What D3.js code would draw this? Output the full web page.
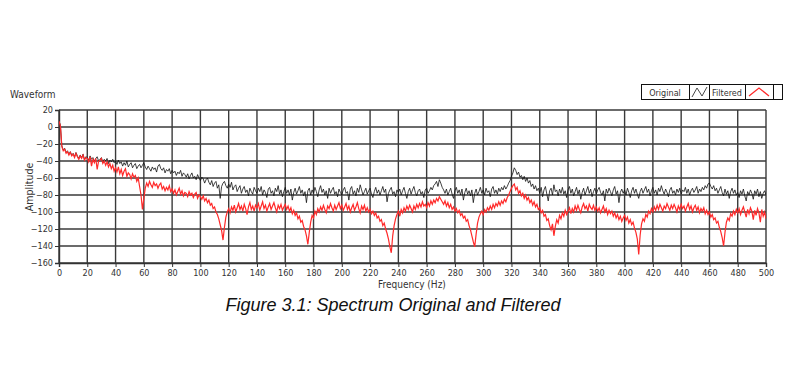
<!DOCTYPE html>
<html>
<head>
<meta charset="utf-8">
<script src="https://cdn.jsdelivr.net/npm/d3@7.9.0/dist/d3.min.js"></script>
<style>
  body { margin: 0; background: #fff; }
  svg text { font-family: "Liberation Sans Narrow", "DejaVu Sans Condensed", "Liberation Sans", sans-serif; fill: #333; }
  .caption { font-family: "Liberation Sans", Arial, sans-serif; font-style: italic; fill: #111; }
</style>
</head>
<body>
<svg id="chart" width="800" height="390"></svg>
<script>
// spectrum bins, 1 Hz apart, 0..500 Hz
const freqStep = 1;

const original = [
  7, 2, -22, -27, -25, -30, -28, -32, -29, -33, -31, -35, -30, -34, -37, -33, -36, -32, -38, -35,
  -36, -39, -34, -38, -36, -41, -37, -35, -40, -38, -36, -42, -38, -40, -37, -43, -39, -41, -38, -42,
  -40, -44, -39, -43, -41, -46, -42, -45, -40, -47, -44, -42, -48, -45, -43, -49, -46, -44, -48, -45,
  -42, -47, -50, -46, -49, -52, -47, -50, -48, -53, -46, -44, -49, -51, -48, -54, -50, -52, -49, -55,
  -51, -54, -52, -57, -53, -55, -51, -58, -54, -56, -59, -55, -61, -57, -54, -60, -58, -62, -56, -60,
  -63, -59, -61, -66, -62, -60, -65, -68, -63, -70, -66, -64, -72, -68, -84, -70, -66, -64, -69, -72,
  -67, -71, -65, -74, -70, -68, -76, -72, -69, -78, -73, -70, -77, -74, -81, -72, -76, -79, -71, -75,
  -78, -72, -76, -70, -80, -74, -77, -83, -73, -71, -78, -75, -81, -72, -76, -69, -79, -74, -82, -76,
  -71, -78, -74, -80, -73, -86, -77, -72, -79, -75, -70, -78, -74, -81, -76, -89, -75, -72, -80, -74,
  -78, -71, -76, -82, -74, -69, -77, -73, -80, -75, -84, -72, -78, -74, -71, -79, -76, -82, -73, -77,
  -80, -74, -71, -78, -76, -86, -73, -70, -79, -75, -81, -72, -77, -68, -74, -80, -76, -72, -79, -75,
  -72, -79, -83, -76, -71, -78, -74, -80, -75, -70, -77, -73, -88, -78, -74, -71, -79, -76, -82, -74,
  -77, -73, -80, -75, -71, -78, -84, -76, -72, -79, -74, -70, -77, -81, -75, -73, -79, -76, -83, -74,
  -72, -78, -75, -71, -74, -69, -67, -64, -70, -62, -66, -71, -74, -78, -73, -80, -76, -72, -79, -84,
  -75, -71, -78, -74, -80, -73, -86, -77, -72, -79, -75, -81, -74, -89, -78, -73, -80, -76, -71, -78,
  -74, -80, -72, -77, -75, -82, -73, -70, -78, -74, -79, -72, -76, -71, -74, -69, -73, -70, -66, -63,
  -58, -54, -48, -51, -56, -53, -59, -57, -62, -58, -64, -60, -66, -63, -70, -67, -73, -69, -75, -72,
  -78, -71, -82, -74, -70, -79, -87, -75, -72, -80, -68, -76, -74, -81, -73, -78, -71, -79, -75, -83,
  -74, -70, -78, -73, -81, -76, -71, -79, -74, -85, -77, -72, -80, -75, -70, -78, -73, -82, -76, -72,
  -79, -74, -71, -77, -80, -75, -87, -73, -78, -72, -76, -81, -74, -70, -79, -75, -89, -77, -73, -78,
  -74, -80, -72, -77, -83, -75, -71, -78, -73, -79, -84, -76, -72, -78, -74, -70, -77, -73, -81, -75,
  -71, -78, -74, -80, -72, -76, -69, -75, -79, -73, -77, -82, -74, -71, -78, -75, -80, -73, -77, -72,
  -79, -74, -76, -71, -78, -73, -80, -75, -72, -77, -74, -70, -78, -73, -76, -71, -74, -69, -72, -67,
  -66, -70, -73, -69, -75, -72, -78, -74, -70, -77, -81, -73, -79, -75, -84, -76, -72, -78, -74, -80,
  -77, -83, -75, -79, -73, -81, -87, -76, -80, -74, -78, -85, -75, -79, -73, -82, -76, -84, -78, -75,
  -80
];

const filtered = [
  7, 1, -23, -28, -26, -31, -29, -33, -30, -34, -32, -36, -31, -35, -38, -34, -37, -33, -39, -36,
  -37, -41, -35, -46, -38, -42, -37, -50, -40, -39, -37, -43, -40, -45, -41, -47, -43, -49, -45, -52,
  -48, -53, -47, -55, -50, -57, -52, -49, -58, -54, -56, -61, -55, -59, -57, -64, -60, -70, -80, -97,
  -84, -72, -66, -70, -64, -68, -71, -65, -69, -67, -72, -68, -66, -73, -70, -75, -71, -74, -69, -76,
  -73, -78, -74, -80, -76, -72, -79, -75, -81, -77, -78, -82, -76, -80, -78, -83, -79, -77, -84, -80,
  -82, -85, -81, -87, -84, -89, -86, -92, -90, -96, -94, -100, -103, -108, -115, -122, -133, -118, -106, -100,
  -96, -101, -94, -98, -92, -100, -95, -90, -97, -93, -99, -91, -96, -103, -94, -89, -97, -93, -99, -92,
  -95, -90, -98, -93, -88, -96, -92, -99, -94, -90, -97, -93, -89, -95, -100, -92, -96, -91, -98, -94,
  -91, -97, -93, -99, -95, -102, -98, -104, -101, -108, -105, -112, -110, -117, -121, -128, -138, -124, -112, -104,
  -107, -99, -103, -96, -100, -94, -98, -92, -97, -101, -93, -96, -90, -95, -99, -92, -97, -93, -89, -96,
  -92, -98, -94, -90, -97, -93, -100, -95, -91, -98, -94, -89, -96, -101, -93, -97, -92, -99, -95, -100,
  -97, -102, -99, -104, -101, -107, -105, -111, -109, -116, -113, -120, -125, -132, -141, -148, -128, -116, -108, -103,
  -99, -105, -97, -101, -95, -99, -93, -97, -92, -96, -100, -93, -97, -91, -95, -90, -94, -88, -93, -91,
  -95, -89, -93, -87, -91, -86, -89, -84, -87, -82, -85, -88, -91, -87, -93, -89, -95, -91, -97, -94,
  -99, -96, -101, -98, -104, -102, -107, -105, -111, -109, -116, -121, -128, -135, -141, -126, -113, -106, -102, -99,
  -103, -97, -100, -95, -98, -93, -97, -91, -95, -90, -93, -88, -92, -87, -90, -85, -88, -83, -80, -76,
  -72, -69, -67, -74, -71, -78, -75, -81, -78, -84, -80, -86, -83, -89, -86, -92, -88, -94, -91, -97,
  -95, -101, -98, -105, -103, -110, -108, -116, -121, -114, -128, -117, -109, -113, -104, -108, -101, -105, -98, -103,
  -99, -95, -102, -96, -100, -93, -98, -92, -97, -101, -94, -90, -96, -93, -99, -91, -95, -97, -92, -98,
  -94, -99, -95, -101, -97, -93, -100, -96, -103, -98, -102, -99, -105, -101, -107, -103, -109, -105, -111, -107,
  -104, -110, -106, -113, -109, -115, -112, -119, -124, -132, -150, -127, -114, -108, -111, -103, -106, -99, -102, -96,
  -100, -94, -98, -92, -97, -91, -95, -99, -93, -96, -90, -94, -98, -92, -96, -91, -95, -100, -93, -97,
  -91, -96, -93, -99, -94, -90, -97, -93, -100, -95, -92, -98, -94, -101, -96, -99, -95, -102, -98, -103,
  -100, -106, -103, -109, -107, -113, -111, -118, -123, -130, -140, -124, -112, -107, -110, -102, -105, -99, -103, -97,
  -101, -96, -103, -98, -94, -100, -106, -97, -102, -95, -99, -109, -98, -104, -96, -101, -112, -97, -105, -100,
  -108
];

const xTicks = d3.range(0, 501, 20);
const yTicks = [20, 0, -20, -40, -60, -80, -100, -120, -140, -160];

const plotLeft = 59, plotRight = 766, plotTop = 110, plotBottom = 263;

const svg = d3.select('#chart');

const x = d3.scaleLinear().domain([0, 500]).range([plotLeft, plotRight]);
const y = d3.scaleLinear().domain([-160, 20]).range([plotBottom, plotTop]);

// grid
svg.append('g')
  .selectAll('line')
  .data(xTicks)
  .join('line')
  .attr('x1', d => x(d)).attr('x2', d => x(d))
  .attr('y1', plotTop).attr('y2', plotBottom)
  .attr('stroke', '#3a3a3a').attr('stroke-width', 1.4);

svg.append('g')
  .selectAll('line')
  .data(yTicks)
  .join('line')
  .attr('x1', plotLeft).attr('x2', plotRight)
  .attr('y1', d => y(d)).attr('y2', d => y(d))
  .attr('stroke', '#3a3a3a').attr('stroke-width', 1.4);

// axes
const xAxis = svg.append('g')
  .attr('transform', `translate(0,${plotBottom})`)
  .call(d3.axisBottom(x).tickValues(xTicks).tickSize(4).tickPadding(3));
const yAxis = svg.append('g')
  .attr('transform', `translate(${plotLeft},0)`)
  .call(d3.axisLeft(y).tickValues(yTicks).tickSize(4).tickPadding(2));

[xAxis, yAxis].forEach(g => {
  g.select('.domain').attr('stroke', '#333').attr('stroke-width', 1.4);
  g.selectAll('.tick line').attr('stroke', '#333');
  g.selectAll('.tick text')
    .attr('font-size', 9)
    .style('font-family', '"Liberation Sans Narrow", "DejaVu Sans Condensed", sans-serif')
    .attr('fill', '#333');
});

// traces
svg.append('clipPath').attr('id', 'plotclip')
  .append('rect')
  .attr('x', plotLeft).attr('y', plotTop - 2)
  .attr('width', plotRight - plotLeft).attr('height', plotBottom - plotTop + 2);

const line = d3.line()
  .x((d, i) => x(i * freqStep))
  .y(d => y(d));

const traces = svg.append('g').attr('clip-path', 'url(#plotclip)');
traces.append('path')
  .datum(original)
  .attr('d', line)
  .attr('fill', 'none')
  .attr('stroke', '#111')
  .attr('stroke-width', 0.8);
traces.append('path')
  .datum(filtered)
  .attr('d', line)
  .attr('fill', 'none')
  .attr('stroke', '#ff2a2a')
  .attr('stroke-width', 1.2);

// labels
svg.append('text').attr('x', 10).attr('y', 98)
  .attr('font-size', 10).text('Waveform');

svg.append('text')
  .attr('transform', 'translate(33,187) rotate(-90)')
  .attr('text-anchor', 'middle')
  .attr('font-size', 10.5).text('Amplitude');

svg.append('text').attr('x', 412).attr('y', 288)
  .attr('text-anchor', 'middle')
  .attr('font-size', 10).text('Frequency (Hz)');

// legend
const legend = svg.append('g');
legend.append('rect')
  .attr('x', 641.5).attr('y', 84.5).attr('width', 141).attr('height', 15)
  .attr('fill', '#fff').attr('stroke', '#111').attr('stroke-width', 1);
[689.5, 709.5, 745.5, 773.5].forEach(px => {
  legend.append('line')
    .attr('x1', px).attr('x2', px).attr('y1', 84.5).attr('y2', 99.5)
    .attr('stroke', '#111');
});
legend.append('text').attr('x', 665).attr('y', 95.5)
  .attr('text-anchor', 'middle').attr('font-size', 9).attr('fill', '#111').text('Original');
legend.append('text').attr('x', 727).attr('y', 95.5)
  .attr('text-anchor', 'middle').attr('font-size', 9).attr('fill', '#111').text('Filtered');
legend.append('path')
  .attr('d', 'M692,97 L697,88 L702,96 L707,87')
  .attr('fill', 'none').attr('stroke', '#333').attr('stroke-width', 0.9);
legend.append('path')
  .attr('d', 'M749,96 L759,88 L769,96')
  .attr('fill', 'none').attr('stroke', '#ff2a2a').attr('stroke-width', 1.3);

// caption
svg.append('text').attr('class', 'caption')
  .attr('x', 393).attr('y', 311)
  .attr('text-anchor', 'middle')
  .attr('font-size', 18)
  .text('Figure 3.1: Spectrum Original and Filtered');
</script>
</body>
</html>
